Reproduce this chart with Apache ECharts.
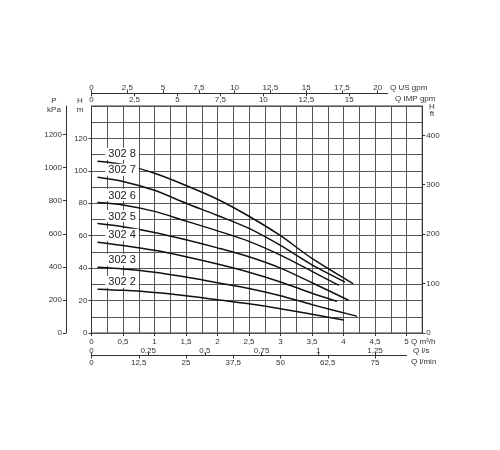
<!DOCTYPE html>
<html>
<head>
<meta charset="utf-8">
<script src="https://cdn.jsdelivr.net/npm/echarts@6/dist/echarts.min.js"></script>
<style>
  html, body { margin: 0; padding: 0; background: #fff; }
  #chart { width: 500px; height: 450px; }
</style>
</head>
<body>
<div id="chart"></div>
<script>
// pump curves, Q in m3/h, H in m
const curveNames = ["302 8", "302 7", "302 6", "302 5", "302 4", "302 3", "302 2"];
const flowPoints = [0.1, 0.5, 1, 1.5, 2, 2.5, 3, 3.5];
const endFlow = [4.15, 4.02, 3.92, 4.08, 3.89, 4.21, 4.0];
const head8 = [106, 104, 98.5, 91, 82.5, 72, 60, 46, 30.5];
const head7 = [96, 93.5, 88, 80, 72.5, 64.5, 54, 42, 31.5];
const head6 = [80.5, 79, 75, 69, 63, 56.5, 48, 38, 29.5];
const head5 = [67.5, 65.5, 62, 57.5, 52.5, 47, 40, 31, 20.2];
const head4 = [56, 54, 51, 47, 42.5, 37.5, 31.5, 24.5, 19.6];
const head3 = [40.5, 39.5, 37.5, 34.5, 31, 27.5, 23, 17.5, 10.4];
const head2 = [27, 26.3, 25, 23, 20.5, 18, 15, 11.5, 8];
const heads = [head8, head7, head6, head5, head4, head3, head2];

// tick labels of every scale
const qM3hTicks = [0, 0.5, 1, 1.5, 2, 2.5, 3, 3.5, 4, 4.5, 5];
const hMTicks = [0, 20, 40, 60, 80, 100, 120];
const pKpaTicks = [0, 200, 400, 600, 800, 1000, 1200];
const hFtTicks = [0, 100, 200, 300, 400];
const qUsTicks = [0, 2.5, 5, 7.5, 10, 12.5, 15, 17.5, 20];
const qImpTicks = [0, 2.5, 5, 7.5, 10, 12.5, 15];
const qLsTicks = [0, 0.25, 0.5, 0.75, 1, 1.25];
const qLminTicks = [0, 12.5, 25, 37.5, 50, 62.5, 75];

// unit conversions from m3/h and m
const US_GPM = 4.4029, IMP_GPM = 3.6662, L_S = 1 / 3.6, L_MIN = 1000 / 60;
const KPA = 9.80665, FT = 1 / 0.3048;

const qMax = 5.25, hMax = 140, pxPerQ = 63;
const topSpan = 4.7, bottomSpan = 5;
const font = "Liberation Sans";
const txt = "#333";

const fmt = (v) => String(v).replace(".", ",");

function line(show) {
  return { show: show, onZero: false, lineStyle: { color: txt } };
}
function labelled(extra) {
  return Object.assign({ splitLine: { show: false }, axisLine: line(false) }, extra);
}
function ticks(values, inside) {
  return { show: true, customValues: values, length: 3, inside: !!inside, lineStyle: { color: txt } };
}
function labels(values, margin, inside) {
  return { show: true, customValues: values, margin: margin, inside: !!inside, formatter: fmt, fontSize: 8, color: txt, fontFamily: font };
}

const chart = echarts.init(document.getElementById("chart"));

const series = curveNames.map((name, i) => {
  const qs = flowPoints.concat([endFlow[i]]);
  const data = qs.map((q, j) => [q, heads[i][j]]);
  data[0] = {
    value: data[0],
    label: {
      show: true, formatter: name, position: [8, -13],
      fontSize: 11, color: "#222", fontFamily: font,
      backgroundColor: "#fff", padding: [1, 3, 0, 3],
    },
  };
  return {
    name: name, type: "line", xAxisIndex: 0, yAxisIndex: 0,
    data: data, smooth: 0.3, symbol: "circle", symbolSize: 1, showSymbol: true,
    lineStyle: { color: "#111", width: 1.5 }, itemStyle: { color: "#111" },
    z: 5,
  };
});

function text(t, x, y, align) {
  return {
    type: "text", x: x, y: y, z: 10,
    style: { text: t, fill: txt, font: "8px '" + font + "'", textAlign: align || "left", textVerticalAlign: "middle" },
  };
}

chart.setOption({
  animation: false,
  grid: [
    { left: 91.5, top: 106, width: qMax * pxPerQ, height: 227, show: true, borderColor: "#333", borderWidth: 1 },
    { left: 91.5, top: 106, width: topSpan * pxPerQ, height: 227 },
    { left: 91.5, top: 106, width: bottomSpan * pxPerQ, height: 227 },
  ],
  xAxis: [
    { type: "value", gridIndex: 0, min: 0, max: qMax, interval: 0.25,
      splitLine: { show: true, lineStyle: { color: "#555", width: 1 } },
      axisLine: line(false), axisTick: { show: false }, axisLabel: { show: false } },
    labelled({ type: "value", gridIndex: 0, position: "bottom", min: 0, max: qMax,
      axisTick: ticks(qM3hTicks), axisLabel: labels(qM3hTicks, 5) }),
    labelled({ type: "value", gridIndex: 1, position: "top", offset: 12.7, min: 0, max: topSpan * US_GPM,
      axisLine: line(true), axisTick: ticks(qUsTicks), axisLabel: labels(qUsTicks, 2) }),
    labelled({ type: "value", gridIndex: 1, position: "top", offset: 12.7, min: 0, max: topSpan * IMP_GPM,
      axisTick: ticks(qImpTicks, true), axisLabel: labels(qImpTicks, 2, true) }),
    labelled({ type: "value", gridIndex: 2, position: "bottom", offset: 22.5, min: 0, max: bottomSpan * L_S,
      axisLine: line(true), axisTick: ticks(qLsTicks, true), axisLabel: labels(qLsTicks, 1, true) }),
    labelled({ type: "value", gridIndex: 2, position: "bottom", offset: 22.5, min: 0, max: bottomSpan * L_MIN,
      axisTick: ticks(qLminTicks), axisLabel: labels(qLminTicks, 3) }),
  ],
  yAxis: [
    { type: "value", gridIndex: 0, min: 0, max: hMax, interval: 10,
      splitLine: { show: true, lineStyle: { color: "#555", width: 1 } },
      axisLine: line(false), axisTick: { show: false }, axisLabel: { show: false } },
    labelled({ type: "value", gridIndex: 0, position: "left", min: 0, max: hMax,
      axisLine: line(true), axisTick: ticks(hMTicks), axisLabel: labels(hMTicks, 4) }),
    labelled({ type: "value", gridIndex: 0, position: "left", offset: 25.5, min: 0, max: hMax * KPA,
      axisLine: line(true), axisTick: ticks(pKpaTicks), axisLabel: labels(pKpaTicks, 4) }),
    labelled({ type: "value", gridIndex: 0, position: "right", min: 0, max: hMax * FT,
      axisLine: line(true), axisTick: ticks(hFtTicks), axisLabel: labels(hFtTicks, 4) }),
    { type: "value", gridIndex: 1, show: false, min: 0, max: 1 },
    { type: "value", gridIndex: 2, show: false, min: 0, max: 1 },
  ],
  graphic: [
    text("P", 54, 101, "center"),
    text("kPa", 54, 110, "center"),
    text("H", 80, 101, "center"),
    text("m", 80, 110, "center"),
    text("H", 432, 107, "center"),
    text("ft", 432, 114, "center"),
    text("Q US gpm", 390, 88),
    text("Q IMP gpm", 395, 99),
    text("Q m\u00b3/h", 411, 342),
    text("Q l/s", 413, 351),
    text("Q l/min", 411, 362),
  ],
  series: series,
});
</script>
</body>
</html>
